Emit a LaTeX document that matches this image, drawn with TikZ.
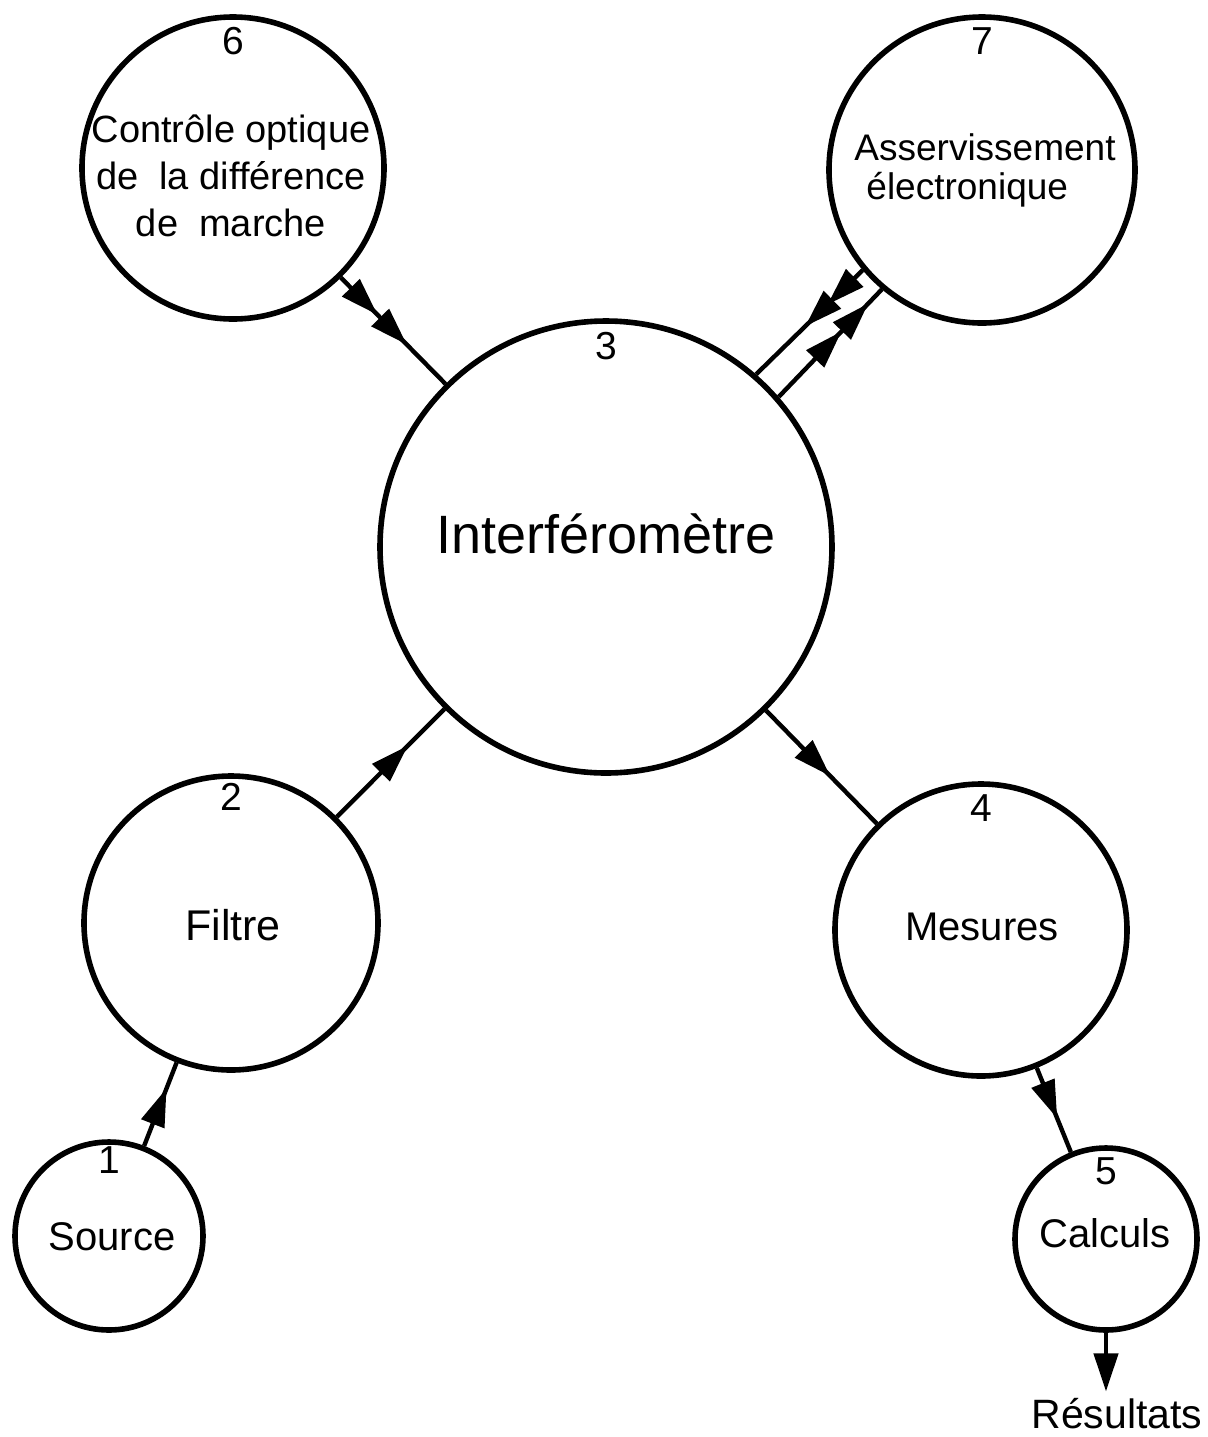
\documentclass[tikz,border=0pt]{standalone}
\usepackage{fontspec}
\setmainfont{Liberation Sans}
\usetikzlibrary{positioning}
\usetikzlibrary{arrows.meta}
\usetikzlibrary{decorations.markings}

\begin{document}
\begin{tikzpicture}[x=0.5pt, y=-0.5pt,
>={Triangle[length=19pt,width=12pt]},
roundnode/.style={circle, draw=black, line width=2.8pt, inner sep=0pt},
numlabel/.style={inner sep=0pt, font=\fontsize{19.5}{19.5}\selectfont},
blocktext/.style={inner sep=0pt, align=center, font=\fontsize{20}{24}\selectfont},
conn/.style={line width=2.2pt},
midarrow/.style={postaction={decorate}, decoration={markings, mark=at position #1 with {\arrow{>}}}},
twoarrows/.style 2 args={postaction={decorate}, decoration={markings, mark=at position #1 with {\arrow{>}}, mark=at position #2 with {\arrow{>}}}},
]
\useasboundingbox (0,0) rectangle (1207,1437);

%Circles and their numbers
\foreach \name/\k/\x/\y/\r/\gap in {source/1/109/1236/94/3.5, filtre/2/231/923/147/5, interf/3/606/547/226/7, mesures/4/981/930/146/6.5, calculs/5/1106/1239/91/6, controle/6/233/168/151/6.5, asserv/7/982/170/153/6.5}{
  \node[roundnode, minimum size=\r pt] (\name) at (\x,\y) {};
  \node[numlabel, below=\gap pt of \name.north] (num\k) {\k};
}

%Texts
\node[blocktext] (sourcetext) at (112,1237) {Source};
\node[blocktext, font=\fontsize{21.5}{24}\selectfont] (filtretext) at (233,925) {Filtre};
\node[blocktext, font=\fontsize{27}{30}\selectfont] (interftext) at (606,534) {Interféromètre};
\node[blocktext] (mesurestext) at (982,927) {Mesures};
\node[blocktext] (calculstext) at (1105,1233) {Calculs};
\node[blocktext, font=\fontsize{19}{23.5}\selectfont] (controletext) at (231,176) {Contrôle optique\\de~ la différence\\de~ marche};
\node[blocktext, align=left, font=\fontsize{18.5}{19.5}\selectfont] (asservtext) at (985,170) {Asservissement\\\hspace*{6pt}électronique};
\node[blocktext, anchor=base, font=\fontsize{20.5}{24}\selectfont] (resultats) at (1117,1428) {Résultats};

%Lines
\draw[conn, midarrow=0.69] (source) -- (filtre);
\draw[conn, midarrow=0.66] (filtre) -- (interf);
\draw[conn, twoarrows={0.35}{0.63}] (controle) -- (interf);
\draw[conn, midarrow=0.58] (interf) -- (mesures);
\draw[conn, midarrow=0.6] (mesures) -- (calculs);
\draw[conn, ->, shorten >=3pt] (calculs) -- (calculs |- resultats.north);
\draw[conn, twoarrows={0.33}{0.54}] (asserv.220) -- (interf.49);
\draw[conn, twoarrows={0.61}{0.87}] (interf.41) -- (asserv.230);

\end{tikzpicture}
\end{document}
